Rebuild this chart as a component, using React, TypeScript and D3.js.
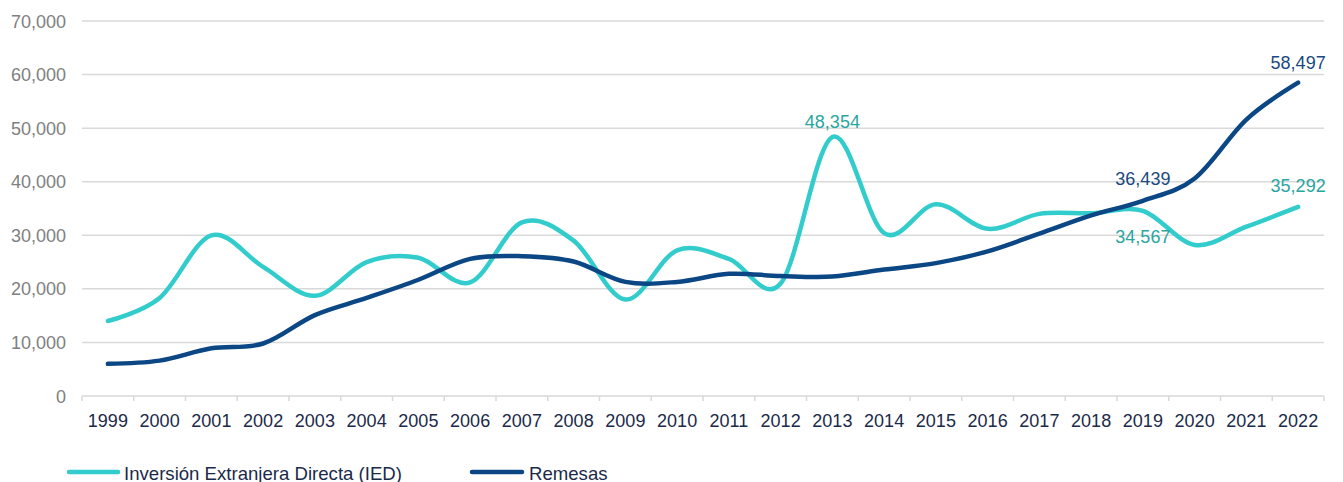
import React from "react";
import * as d3 from "d3";

const years = ["1999","2000","2001","2002","2003","2004","2005","2006","2007","2008","2009","2010","2011","2012","2013","2014","2015","2016","2017","2018","2019","2020","2021","2022"];
const ied = [14000,18300,30000,24100,18700,25000,25800,21200,32400,29000,18000,27200,25600,21000,48354,30400,35800,31200,34000,34100,34567,28200,31600,35292];
const remesas = [6000,6600,8900,9800,15100,18300,21700,25600,26100,25100,21300,21300,22800,22400,22300,23600,24800,27000,30300,33700,36439,40600,51600,58497];
const yTicks = [0,10000,20000,30000,40000,50000,60000,70000];
const labelsIED = [{ i: 14, dy: -9 }, { i: 20, dy: 32 }, { i: 23, dy: -15 }];
const labelsRem = [{ i: 20, dy: -16 }, { i: 23, dy: -14 }];

const W = 1343, H = 482;
const left = 82, right = 1324, top = 21, bottom = 396;
const IED_COLOR = "#33CCCC";
const IED_TEXT = "#2AA5A0";
const REM_COLOR = "#0B4784";
const REM_TEXT = "#1A4A80";
const FONT = "'Liberation Sans', Arial, sans-serif";

export default function App() {
  const x = d3.scaleBand<string>().domain(years).range([left, right]).padding(0);
  const y = d3.scaleLinear().domain([0, 70000]).range([bottom, top]);
  const cx = (i: number) => (x(years[i]) as number) + x.bandwidth() / 2;
  const line = d3.line<number>().x((_, i) => cx(i)).y((d) => y(d)).curve(d3.curveCatmullRom.alpha(0));
  const fmt = d3.format(",");
  const boundaries = years.map((yr) => x(yr) as number).concat([right]);

  return (
    <svg width={W} height={H} style={{ position: "absolute", left: 0, top: 0 }} fontFamily={FONT}>
      {yTicks.map((t) => (
        <g key={t}>
          {t > 0 && <line x1={left} x2={right} y1={y(t)} y2={y(t)} stroke="#D9D9D9" strokeWidth={1.5} />}
          <text x={66} y={y(t) + 6.5} textAnchor="end" fontSize={18} fill="#808080">{fmt(t)}</text>
        </g>
      ))}
      <line x1={left} x2={right} y1={bottom} y2={bottom} stroke="#D9D9D9" strokeWidth={1.5} />
      {boundaries.map((b, i) => (
        <line key={i} x1={b} x2={b} y1={bottom} y2={bottom + 5} stroke="#D9D9D9" strokeWidth={1.5} />
      ))}
      {years.map((yr, i) => (
        <text key={yr} x={cx(i)} y={427} textAnchor="middle" fontSize={18} fill="#1B2A4A">{yr}</text>
      ))}
      <path d={line(ied) || ""} fill="none" stroke={IED_COLOR} strokeWidth={4.5} strokeLinecap="round" />
      <path d={line(remesas) || ""} fill="none" stroke={REM_COLOR} strokeWidth={4.5} strokeLinecap="round" />
      {labelsIED.map(({ i, dy }) => (
        <text key={"a" + i} x={cx(i)} y={y(ied[i]) + dy} textAnchor="middle" fontSize={18} fill={IED_TEXT}>{fmt(ied[i])}</text>
      ))}
      {labelsRem.map(({ i, dy }) => (
        <text key={"b" + i} x={cx(i)} y={y(remesas[i]) + dy} textAnchor="middle" fontSize={18} fill={REM_TEXT}>{fmt(remesas[i])}</text>
      ))}
      <line x1={69} x2={118} y1={472} y2={472} stroke={IED_COLOR} strokeWidth={4.5} strokeLinecap="round" />
      <text x={124} y={480} fontSize={18.6} fill="#1B2A4A">Inversión Extranjera Directa (IED)</text>
      <line x1={472} x2={522} y1={472} y2={472} stroke={REM_COLOR} strokeWidth={4.5} strokeLinecap="round" />
      <text x={529} y={480} fontSize={18.6} fill="#1B2A4A">Remesas</text>
    </svg>
  );
}
